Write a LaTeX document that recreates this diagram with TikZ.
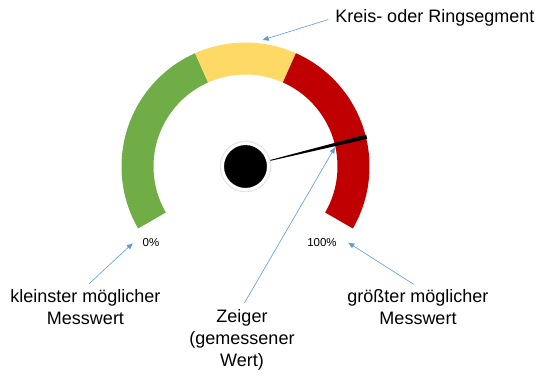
\documentclass[tikz,border=0pt]{standalone}
\usepackage{fontspec}
\setmainfont{Liberation Sans}
\usetikzlibrary{arrows.meta, positioning, calc}

\definecolor{segGreen}{HTML}{70AD47}
\definecolor{segYellow}{HTML}{FFD966}
\definecolor{segRed}{HTML}{C00000}
\definecolor{callBlue}{HTML}{5B9BD5}

\begin{document}
\begin{tikzpicture}[
  x=1pt, y=1pt,
  desc/.style={font=\fontsize{18}{22.3}\selectfont, align=center, inner sep=2pt},
  pct/.style={font=\fontsize{11.5}{13}\selectfont, inner sep=1pt},
  callout/.style={-{Triangle[length=6pt, width=5pt]}, callBlue, line width=0.6pt, shorten <=5pt},
  hub/.style={circle, fill=black, draw=white, line width=3pt, minimum size=46pt, inner sep=0pt,
    preaction={draw=black!10, line width=5.5pt}}
]
\useasboundingbox (0,0) rectangle (554,383);

\coordinate (pivot) at (245.5,216.5);

% Ring segments
\foreach \from/\to/\col in {210/114/segGreen, 114/66/segYellow, 66/-30/segRed}
  \fill[\col] ($(pivot)+(\from:124)$) arc[start angle=\from, end angle=\to, radius=124]
    -- ($(pivot)+(\to:92)$) arc[start angle=\to, end angle=\from, radius=92] -- cycle;

% Pointer
\fill[black] (pivot) -- ($(pivot)+(13.8:124.8)+(103.8:2.2)$)
  -- ($(pivot)+(13.8:124.8)+(-76.2:2.2)$) -- cycle;
\node[hub] (hub) at (pivot) {};

% Labels
\node[desc] (seglbl) at (434.8,365) {Kreis- oder Ringsegment};
\node[pct] (zero) at (151,140.3) {0\%};
\node[pct] (full) at (322,140.3) {100\%};
\node[desc] (minlbl) at (85.5,76) {kleinster möglicher\\Messwert};
\node[desc] (maxlbl) at (418,76) {größter möglicher\\Messwert};
\node[desc] (ptrlbl) at (242,43) {Zeiger\\(gemessener\\Wert)};

% Callouts
\coordinate (segtip) at (262.7,343);
\coordinate (mintip) at (132.7,139.7);
\coordinate (maxtip) at (348.3,140.3);
\coordinate (ptrtip) at (335,235.7);

\draw[callout] (seglbl.west) -- (segtip);
\draw[callout] (minlbl.north) -- (mintip);
\draw[callout] (maxlbl.north) -- (maxtip);
\draw[callout] (ptrlbl.north) -- (ptrtip);

\end{tikzpicture}
\end{document}
